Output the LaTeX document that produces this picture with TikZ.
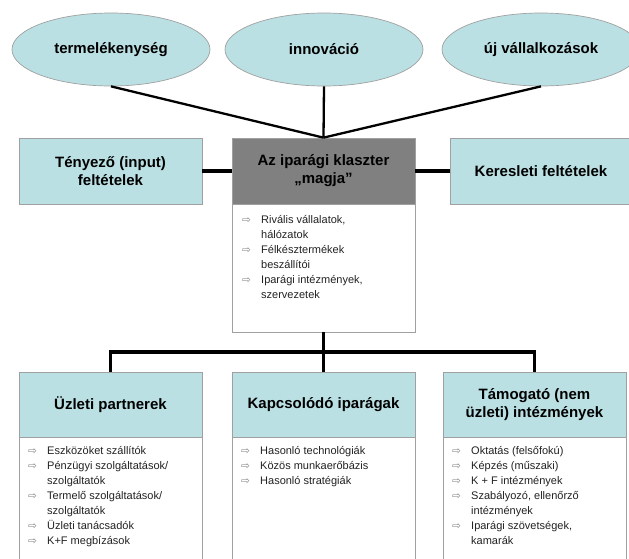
\documentclass[tikz,border=0pt]{standalone}
\usepackage{fontspec}
\setmainfont{Liberation Sans}
\newfontfamily\arrfont{DejaVu Sans}
\usetikzlibrary{shapes.geometric}
\definecolor{lblue}{HTML}{BBE0E3}
\definecolor{hgray}{HTML}{808080}
\definecolor{bgray}{HTML}{A0A0A0}
\definecolor{txtgray}{HTML}{222222}
\definecolor{arrgray}{HTML}{808080}
\newcommand{\arr}{\makebox[19pt][l]{\arrfont\fontsize{10.5}{10.5}\selectfont\textcolor{arrgray}{⇨}}}
\newcommand{\ind}{\makebox[19pt]{}}
\newcommand{\topstrut}{\rule{0pt}{11pt}}
\begin{document}
\begin{tikzpicture}[x=1pt,y=-1pt,
  oval/.style={ellipse, draw=bgray, line width=0.7pt, fill=lblue, minimum width=198pt, minimum height=73pt, inner sep=0pt, font=\fontsize{15}{18}\selectfont\bfseries},
  hdr/.style={draw=bgray, line width=0.7pt, fill=lblue, minimum width=183pt, minimum height=66pt, inner sep=0pt, align=center, font=\fontsize{15}{18}\selectfont\bfseries},
  corehdr/.style={hdr, fill=hgray},
  body/.style={draw=bgray, line width=0.7pt, fill=white, minimum width=183pt, inner sep=0pt},
  list/.style={anchor=north west, inner sep=0pt, align=left, text=txtgray, font=\fontsize{11}{15}\selectfont},
  thin/.style={line width=2.3pt, black},
  thick/.style={line width=3.8pt, black, line join=miter}]
\useasboundingbox (0,0) rectangle (629,558);

% ellipses
\node[oval] (e1) at (111,49.5) {termelékenység};
\node[oval] (e2) at (324,49.5) {innováció};
\node[oval] (e3) at (541,49.5) {új vállalkozások};

% middle row
\node[hdr] (tenyezo) at (110.5,171) {Tényező (input)\\feltételek};
\node[corehdr] (core) at (323.5,171) {Az iparági klaszter\\„magja”};
\node[hdr, minimum width=182pt] (kereslet) at (541,171) {Keresleti feltételek};
\node[body, minimum height=128pt] (coreb) at (323.5,268) {};
\node[list] (corel) at (242,212) {\topstrut\arr Rivális vállalatok,\\\ind hálózatok\\\arr Félkésztermékek\\\ind beszállítói\\\arr Iparági intézmények,\\\ind szervezetek};

% bottom row
\node[hdr, minimum height=65pt] (uzleti) at (110.5,404.5) {Üzleti partnerek};
\node[hdr, minimum height=65pt] (kapcs) at (323.5,404.5) {Kapcsolódó iparágak};
\node[hdr, minimum height=65pt] (tamog) at (534.5,404.5) {Támogató (nem\\üzleti) intézmények};
\node[body, minimum height=140pt] (uzletib) at (110.5,507) {};
\node[body, minimum height=140pt] (kapcsb) at (323.5,507) {};
\node[body, minimum height=140pt] (tamogb) at (534.5,507) {};
\node[list] (uzletil) at (28,443) {\topstrut\arr Eszközöket szállítók\\\arr Pénzügyi szolgáltatások/\\\ind szolgáltatók\\\arr Termelő szolgáltatások/\\\ind szolgáltatók\\\arr Üzleti tanácsadók\\\arr K+F megbízások};
\node[list] (kapcsl) at (241,443) {\topstrut\arr Hasonló technológiák\\\arr Közös munkaerőbázis\\\arr Hasonló stratégiák};
\node[list] (tamogl) at (452,443) {\topstrut\arr Oktatás (felsőfokú)\\\arr Képzés (műszaki)\\\arr K + F intézmények\\\arr Szabályozó, ellenőrző\\\ind intézmények\\\arr Iparági szövetségek,\\\ind kamarák};

% connectors
\draw[thin] (e1.south) -- (core.north);
\draw[thin] (e2.south) -- (core.north);
\draw[thin] (e3.south) -- (core.north);
\draw[thick] (tenyezo.east) -- (core.west);
\draw[thick] (core.east) -- (kereslet.west);
\coordinate (bus) at (323.5,352);
\draw[thick] (coreb.south) -- (kapcs.north);
\draw[thick] (uzleti.north) |- (bus) -| (tamog.north);
\end{tikzpicture}
\end{document}
